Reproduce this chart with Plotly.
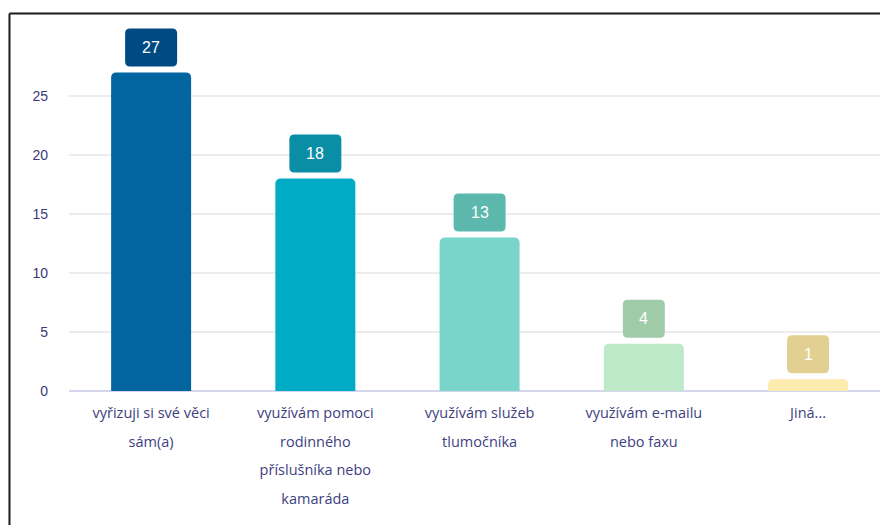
import plotly.graph_objects as go

categories = [
    "vyřizuji si své věci sám(a)",
    "využívám pomoci rodinného příslušníka nebo kamaráda",
    "využívám služeb tlumočníka",
    "využívám e-mailu nebo faxu",
    "Jiná...",
]
tick_lines = [
    ["vyřizuji si své věci", "sám(a)"],
    ["využívám pomoci", "rodinného", "příslušníka nebo", "kamaráda"],
    ["využívám služeb", "tlumočníka"],
    ["využívám e-mailu", "nebo faxu"],
    ["Jiná..."],
]
values = [27, 18, 13, 4, 1]
bar_colors = ["#03659F", "#00ABC6", "#79D5C9", "#BDE9C9", "#FEEBAE"]
box_colors = ["#004A84", "#0A8EA6", "#5CB8AD", "#A0CBA9", "#E2D093"]
y_ticks = [0, 5, 10, 15, 20, 25]

TXT = "#3b3a78"
XFONT = "'Open Sans', sans-serif"
YFONT = "'Liberation Sans', Arial, sans-serif"

ticktext = [
    "<br>".join(f"<span style='font-size:14.5px'>{ln}</span>" for ln in lines)
    for lines in tick_lines
]

fig = go.Figure()
fig.add_trace(go.Bar(
    x=list(range(len(categories))),
    y=values,
    marker=dict(color=bar_colors, line=dict(width=0), cornerradius=5),
    hovertext=categories,
    showlegend=False,
))

def rounded_box(w, h, r, base):
    x0, x1 = -w / 2, w / 2
    y0, y1 = base, base + h
    return (f"M {x0+r},{y0} L {x1-r},{y0} Q {x1},{y0} {x1},{y0+r} "
            f"L {x1},{y1-r} Q {x1},{y1} {x1-r},{y1} L {x0+r},{y1} "
            f"Q {x0},{y1} {x0},{y1-r} L {x0},{y0+r} Q {x0},{y0} {x0+r},{y0} Z")

GAP, BOXH = 6, 38
for i, (v, c) in enumerate(zip(values, box_colors)):
    w = 32 + 10 * len(str(v))
    fig.add_shape(type="path", xref="x", yref="y",
                  xsizemode="pixel", ysizemode="pixel",
                  xanchor=i, yanchor=v,
                  path=rounded_box(w, BOXH, 5, GAP),
                  fillcolor=c, line=dict(width=0), layer="above")
    fig.add_annotation(x=i, y=v, text=str(v), showarrow=False,
                       yshift=GAP + BOXH / 2,
                       font=dict(color="white", size=16, family=YFONT))

# outer frame lines (container border)
fig.add_shape(type="line", xref="paper", yref="paper",
              x0=-0.0734, x1=1.05, y0=1.0175, y1=1.0175,
              line=dict(color="#1a1a1a", width=2))
fig.add_shape(type="line", xref="paper", yref="paper",
              x0=-0.0734, x1=-0.0734, y0=1.0175, y1=-0.5,
              line=dict(color="#1a1a1a", width=2))

fig.update_layout(
    width=880, height=525,
    margin=dict(l=69, r=0, t=20, b=134),
    paper_bgcolor="white", plot_bgcolor="white",
    bargap=0.513,
    font=dict(family=XFONT, color=TXT, size=13),
    xaxis=dict(
        range=[-0.5, 4.438],
        tickmode="array", tickvals=list(range(len(categories))), ticktext=ticktext,
        tickfont=dict(size=22, color="#403f80", family=XFONT),
        showgrid=False, zeroline=False, showline=False, ticks="",
        ticklabelstandoff=4,
        automargin=False,
    ),
    yaxis=dict(
        range=[0, 31.44],
        tickmode="array", tickvals=y_ticks,
        tickfont=dict(size=14, color=TXT, family=YFONT),
        showgrid=True, gridcolor="#ECECEC", gridwidth=1.5,
        zeroline=True, zerolinecolor="#D3D6EC", zerolinewidth=1.5,
        showline=False, ticks="", ticklabelstandoff=20,
        automargin=False,
    ),
)

fig.write_html("out.html",
               config={"displayModeBar": False},
               post_script="document.body.style.margin='0';document.body.style.overflow='hidden';")
